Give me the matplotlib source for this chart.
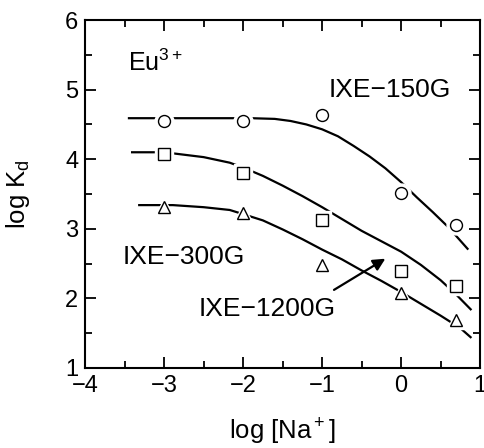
import matplotlib
matplotlib.use("Agg")
from matplotlib import pyplot as plt
from matplotlib.ticker import MultipleLocator

plt.rcParams['font.family'] = ['Liberation Sans', 'DejaVu Sans']
plt.rcParams['mathtext.fontset'] = 'custom'
plt.rcParams['mathtext.rm'] = 'Liberation Sans'
plt.rcParams['mathtext.it'] = 'Liberation Sans:italic'

# measured points
log_na = [-3, -2, -1, 0, 0.7]
kd_150g = [4.55, 4.55, 4.63, 3.51, 3.05]
kd_1200g = [4.07, 3.80, 3.12, 2.39, 2.18]
kd_300g = [3.31, 3.22, 2.48, 2.08, 1.69]

# fitted curves
fit150_x = [-3.46, -2.5, -1.9, -1.6, -1.4, -1.2, -1.0, -0.8, -0.6, -0.4, -0.2, 0.0, 0.2, 0.4, 0.6, 0.85]
fit150_y = [4.59, 4.59, 4.59, 4.58, 4.55, 4.50, 4.43, 4.33, 4.19, 4.04, 3.87, 3.67, 3.45, 3.24, 3.02, 2.70]
fit1200_x = [-3.42, -3.0, -2.5, -2.17, -2.0, -1.75, -1.5, -1.25, -1.0, -0.75, -0.5, -0.25, 0.0, 0.25, 0.5, 0.7, 0.89]
fit1200_y = [4.10, 4.10, 4.03, 3.95, 3.88, 3.76, 3.62, 3.47, 3.31, 3.14, 2.97, 2.82, 2.67, 2.48, 2.26, 2.05, 1.83]
fit300_x = [-3.33, -2.89, -2.5, -2.17, -2.0, -1.75, -1.5, -1.25, -1.0, -0.75, -0.5, -0.25, 0.0, 0.25, 0.5, 0.75, 0.89]
fit300_y = [3.34, 3.34, 3.31, 3.27, 3.21, 3.12, 2.99, 2.85, 2.70, 2.56, 2.40, 2.25, 2.09, 1.92, 1.75, 1.57, 1.43]

fig = plt.figure(figsize=(4.84, 4.48), dpi=100)
ax = fig.add_axes([0.176, 0.179, 0.816, 0.776])

for fx, fy in [(fit150_x, fit150_y), (fit1200_x, fit1200_y), (fit300_x, fit300_y)]:
    ax.plot(fx, fy, color='black', lw=1.6, zorder=2, solid_capstyle='butt', solid_joinstyle='round')

for ys, m, ms in [(kd_150g, 'o', 8.6), (kd_1200g, 's', 8.2), (kd_300g, '^', 8.0)]:
    # white halo so the curve breaks around each marker
    ax.plot(log_na, ys, ls='none', marker=m, ms=ms + 5, mfc='white', mec='white', zorder=3)
    ax.plot(log_na, ys, ls='none', marker=m, ms=ms, mfc='white', mec='black', mew=1.0, zorder=4)

ax.set_xlim(-4, 1)
ax.set_ylim(1, 6)
ax.xaxis.set_major_locator(MultipleLocator(1))
ax.xaxis.set_minor_locator(MultipleLocator(0.5))
ax.yaxis.set_major_locator(MultipleLocator(1))
ax.yaxis.set_minor_locator(MultipleLocator(0.5))
ax.tick_params(which='both', direction='in', top=True, right=True, width=1.3, labelsize=17, pad=5)
ax.tick_params(which='major', length=8)
ax.tick_params(which='minor', length=5)
for s in ax.spines.values():
    s.set_linewidth(1.5)

ax.text(-3.46, 5.38, r'Eu$^{\rm 3+}$', fontsize=18, va='center', ha='left')
ax.text(-0.92, 4.99, 'IXE−150G', fontsize=19, va='center', ha='left')
ax.text(-3.53, 2.59, 'IXE−300G', fontsize=19, va='center', ha='left')
ax.text(-2.57, 1.85, 'IXE−1200G', fontsize=19, va='center', ha='left')
ax.annotate('', xy=(-0.17, 2.59), xytext=(-0.88, 2.10),
            arrowprops=dict(arrowstyle='-|>', color='black', lw=1.6, mutation_scale=18))

ax.set_xlabel(r'log [Na$^{\rm +}$]', fontsize=18.5)
ax.set_ylabel(r'log K$_{\rm d}$', fontsize=18.5)
ax.xaxis.set_label_coords(0.5, -0.14)
ax.yaxis.set_label_coords(-0.135, 0.5)

fig.savefig('out.png', dpi=100)
